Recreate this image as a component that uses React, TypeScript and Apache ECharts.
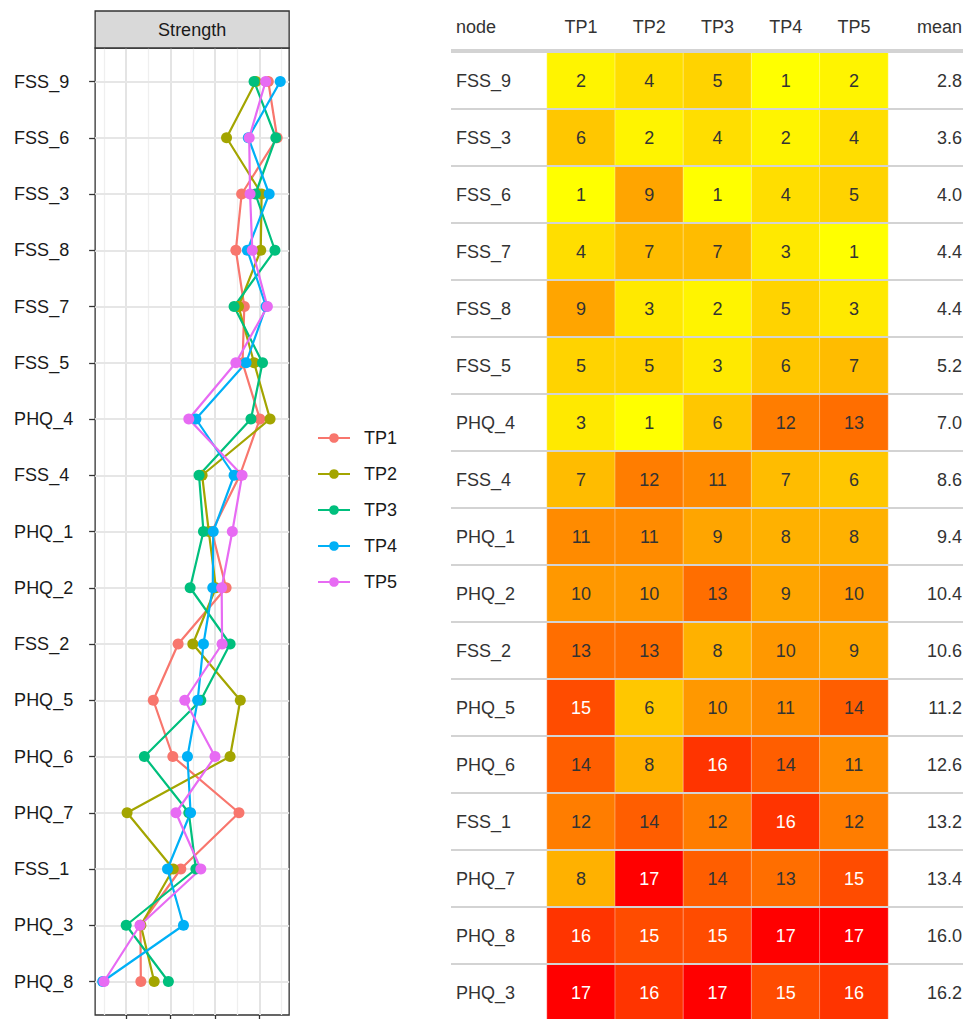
import React, { useEffect, useRef } from 'react';
import * as echarts from 'echarts';

// ---- Left panel: centrality (Strength) per time point ----
const plotNodes = ['FSS_9', 'FSS_6', 'FSS_3', 'FSS_8', 'FSS_7', 'FSS_5', 'PHQ_4', 'FSS_4', 'PHQ_1', 'PHQ_2', 'FSS_2', 'PHQ_5', 'PHQ_6', 'PHQ_7', 'FSS_1', 'PHQ_3', 'PHQ_8'];
const seriesNames = ['TP1', 'TP2', 'TP3', 'TP4', 'TP5'];
const strengthTP1 = [1.20, 1.40, 0.60, 0.47, 0.66, 0.62, 1.01, 0.56, -0.07, 0.25, -0.83, -1.39, -0.95, 0.54, -0.77, -1.68, -1.67];
const strengthTP2 = [0.92, 0.26, 1.05, 1.03, 0.53, 0.88, 1.24, -0.29, -0.14, 0.02, -0.50, 0.57, 0.34, -1.98, -0.94, -1.67, -1.37];
const strengthTP3 = [0.88, 1.37, 0.91, 1.35, 0.43, 1.07, 0.81, -0.36, -0.26, -0.56, 0.34, -0.32, -1.59, -0.59, -0.43, -2.00, -1.05];
const strengthTP4 = [1.47, 0.75, 1.22, 0.73, 1.15, 0.70, -0.43, 0.43, -0.04, -0.05, -0.26, -0.39, -0.62, -0.55, -1.07, -0.71, -2.53];
const strengthTP5 = [1.14, 0.77, 0.79, 0.84, 1.18, 0.47, -0.59, 0.61, 0.39, 0.15, 0.16, -0.68, 0.00, -0.88, -0.32, -1.69, -2.50];
const seriesColors = ['#F8766D', '#A3A500', '#00BF7D', '#00B0F6', '#E76BF3'];

// ---- Right panel: rank table ----
const tableNodes = ['FSS_9', 'FSS_3', 'FSS_6', 'FSS_7', 'FSS_8', 'FSS_5', 'PHQ_4', 'FSS_4', 'PHQ_1', 'PHQ_2', 'FSS_2', 'PHQ_5', 'PHQ_6', 'FSS_1', 'PHQ_7', 'PHQ_8', 'PHQ_3'];
const rankTP1 = [2, 6, 1, 4, 9, 5, 3, 7, 11, 10, 13, 15, 14, 12, 8, 16, 17];
const rankTP2 = [4, 2, 9, 7, 3, 5, 1, 12, 11, 10, 13, 6, 8, 14, 17, 15, 16];
const rankTP3 = [5, 4, 1, 7, 2, 3, 6, 11, 9, 13, 8, 10, 16, 12, 14, 15, 17];
const rankTP4 = [1, 2, 4, 3, 5, 6, 12, 7, 8, 9, 10, 11, 14, 16, 13, 17, 15];
const rankTP5 = [2, 4, 5, 1, 3, 7, 13, 6, 8, 10, 9, 14, 11, 12, 15, 17, 16];
const meanRank = [2.8, 3.6, 4.0, 4.4, 4.4, 5.2, 7.0, 8.6, 9.4, 10.4, 10.6, 11.2, 12.6, 13.2, 13.4, 16.0, 16.2];
const rampColors = ['#FFFF00', '#FFA500', '#FF0000'];

const FONT = '"Liberation Sans", Arial, Helvetica, sans-serif';

// Lab interpolation for the colour ramp
function hexToRgb(h: string) {
  return [parseInt(h.slice(1, 3), 16), parseInt(h.slice(3, 5), 16), parseInt(h.slice(5, 7), 16)];
}
function toLin(c: number) { c /= 255; return c <= 0.04045 ? c / 12.92 : Math.pow((c + 0.055) / 1.055, 2.4); }
function fromLin(c: number) { const v = c <= 0.0031308 ? 12.92 * c : 1.055 * Math.pow(c, 1 / 2.4) - 0.055; return Math.max(0, Math.min(255, Math.round(v * 255))); }
const WX = 0.95047, WY = 1.0, WZ = 1.08883;
function f(t: number) { return t > 216 / 24389 ? Math.cbrt(t) : (24389 / 27 * t + 16) / 116; }
function finv(t: number) { return t * t * t > 216 / 24389 ? t * t * t : (116 * t - 16) / (24389 / 27); }
function rgbToLab(rgb: number[]) {
  const [r, g, b] = rgb.map(toLin);
  const X = 0.4124 * r + 0.3576 * g + 0.1805 * b;
  const Y = 0.2126 * r + 0.7152 * g + 0.0722 * b;
  const Z = 0.0193 * r + 0.1192 * g + 0.9505 * b;
  const fx = f(X / WX), fy = f(Y / WY), fz = f(Z / WZ);
  return [116 * fy - 16, 500 * (fx - fy), 200 * (fy - fz)];
}
function labToHex(lab: number[]) {
  const fy = (lab[0] + 16) / 116, fx = fy + lab[1] / 500, fz = fy - lab[2] / 200;
  const X = WX * finv(fx), Y = WY * finv(fy), Z = WZ * finv(fz);
  const r = 3.2406 * X - 1.5372 * Y - 0.4986 * Z;
  const g = -0.9689 * X + 1.8758 * Y + 0.0415 * Z;
  const b = 0.0557 * X - 0.2040 * Y + 1.0570 * Z;
  return '#' + [r, g, b].map((c) => fromLin(c).toString(16).padStart(2, '0')).join('');
}
function buildPalette(stops: string[], n: number) {
  const labs = stops.map((s) => rgbToLab(hexToRgb(s)));
  const out: string[] = [];
  for (let i = 0; i < n; i++) {
    const t = (i / (n - 1)) * (labs.length - 1);
    const k = Math.min(Math.floor(t), labs.length - 2);
    const u = t - k;
    out.push(labToHex([0, 1, 2].map((d) => labs[k][d] + (labs[k + 1][d] - labs[k][d]) * u)));
  }
  return out;
}

// pixel layout of the left panel: x value 0 at 215px, 44.4 px per unit
const PX0 = 215, PXU = 44.4;
const PANEL_MIN = -2.7, PANEL_MAX = 1.67;

export default function App() {
  const ref = useRef<HTMLDivElement>(null);
  useEffect(() => {
    if (!ref.current) return;
    const chart = echarts.init(ref.current, undefined, { renderer: 'svg' });
    const strengths = [strengthTP1, strengthTP2, strengthTP3, strengthTP4, strengthTP5];
    const ranks = [rankTP1, rankTP2, rankTP3, rankTP4, rankTP5];
    const heatData: any[] = [];
    ranks.forEach((col, c) => {
      col.forEach((v, r) => {
        heatData.push({ value: [c, r, v], label: { color: v >= 15 ? '#ffffff' : '#333333' } });
      });
    });
    const palette = buildPalette(rampColors, 17);

    const lineSeries = strengths.map((vals, i) => ({
      type: 'line',
      name: seriesNames[i],
      xAxisIndex: 1,
      yAxisIndex: 1,
      data: vals.map((v, j) => [v, plotNodes[j]]),
      symbol: 'circle',
      symbolSize: 11,
      showSymbol: true,
      lineStyle: { width: 2.2, color: seriesColors[i] },
      itemStyle: { color: seriesColors[i] },
      emphasis: { disabled: true },
      z: 3,
    }));

    const noLine = { onZero: false, show: false };
    const hidden = { show: false };
    const panelLeft = PX0 + PANEL_MIN * PXU;
    const panelW = (PANEL_MAX - PANEL_MIN) * PXU;
    const gLeft = PX0 - 2.5 * PXU;
    const gW = 4 * PXU;

    const option: any = {
      animation: false,
      textStyle: { fontFamily: FONT },
      grid: [
        // 0: panel frame
        { left: panelLeft, top: 48, width: panelW, height: 967, show: true, borderColor: '#333333', borderWidth: 1.3, backgroundColor: '#ffffff', outerBoundsMode: 'none' },
        // 1: data area
        { left: panelLeft, top: 81.5, width: panelW, height: 900, outerBoundsMode: 'none' },
        // 2: heatmap cells
        { left: 547, top: 52, width: 341, height: 969, outerBoundsMode: 'none' },
        // 3: table rows
        { left: 451, top: 52, width: 512, height: 969, outerBoundsMode: 'none' },
        // 4: vertical grid lines of the panel (-2.5 .. 1.5)
        { left: gLeft, top: 48, width: gW, height: 967, outerBoundsMode: 'none' },
      ],
      xAxis: [
        { gridIndex: 0, type: 'value', min: PANEL_MIN, max: PANEL_MAX, show: false, axisLine: noLine, axisTick: hidden, axisLabel: hidden, splitLine: hidden },
        { gridIndex: 1, type: 'value', min: PANEL_MIN, max: PANEL_MAX, show: false, axisLine: noLine, axisTick: hidden, axisLabel: hidden, splitLine: hidden },
        {
          gridIndex: 2, type: 'category', data: seriesNames, position: 'top',
          axisLine: noLine, axisTick: hidden, splitLine: hidden,
          axisLabel: { margin: 16, fontSize: 18, color: '#333333', fontFamily: FONT },
        },
        { gridIndex: 3, type: 'value', min: 0, max: 1, show: false, axisLine: noLine, axisTick: hidden, axisLabel: hidden, splitLine: hidden },
        {
          gridIndex: 4, type: 'value', min: -2.5, max: 1.5, interval: 1, position: 'bottom',
          axisLine: noLine, axisLabel: hidden, axisTick: hidden,
          splitLine: { show: true, lineStyle: { color: '#efefef', width: 1.3 } },
          minorTick: { show: true, splitNumber: 2, length: 6, lineStyle: { color: '#333333', width: 1.3 } },
          minorSplitLine: { show: true, lineStyle: { color: '#e4e4e4', width: 2 } },
        },
      ],
      yAxis: [
        { gridIndex: 0, type: 'value', min: 0, max: 1, show: false, axisLine: noLine, axisTick: hidden, axisLabel: hidden, splitLine: hidden },
        {
          gridIndex: 1, type: 'category', data: plotNodes, inverse: true, boundaryGap: false, z: 2,
          axisLine: noLine,
          axisTick: { show: true, length: 6, lineStyle: { color: '#333333', width: 1.3 } },
          axisLabel: { align: 'left', margin: 81, fontSize: 18, color: '#1a1a1a', fontFamily: FONT },
          splitLine: { show: true, lineStyle: { color: '#e6e6e6', width: 2 } },
        },
        { gridIndex: 2, type: 'category', data: tableNodes, inverse: true, show: false, axisLine: noLine, axisTick: hidden, axisLabel: hidden, splitLine: hidden },
        {
          gridIndex: 3, type: 'category', data: tableNodes, inverse: true, z: 5,
          axisLine: noLine, axisTick: hidden,
          axisLabel: { align: 'left', margin: -5, fontSize: 18, color: '#333333', fontFamily: FONT },
          splitLine: { show: true, lineStyle: { color: '#d3d3d3', width: 2 } },
        },
        {
          gridIndex: 3, type: 'category', data: meanRank.map((m) => m.toFixed(1)), inverse: true, position: 'right',
          axisLine: noLine, axisTick: hidden, splitLine: hidden,
          axisLabel: { align: 'right', margin: -1, fontSize: 18, color: '#333333', fontFamily: FONT },
        },
        { gridIndex: 4, type: 'value', min: 0, max: 1, show: false, axisLine: noLine, axisTick: hidden, axisLabel: hidden, splitLine: hidden },
      ],
      legend: {
        data: seriesNames,
        orient: 'vertical',
        left: 312,
        top: 424,
        itemWidth: 32,
        itemHeight: 12,
        itemGap: 18,
        textStyle: { fontSize: 18, color: '#1a1a1a', fontFamily: FONT, padding: [0, 0, 0, 9] },
      },
      visualMap: {
        type: 'continuous', min: 1, max: 17, show: false, dimension: 2,
        seriesIndex: 5,
        inRange: { color: palette },
      },
      graphic: [
        { type: 'rect', shape: { x: panelLeft, y: 11, width: panelW, height: 37 }, style: { fill: '#d9d9d9', stroke: '#333333', lineWidth: 1.3 }, z: 10 },
        { type: 'text', x: panelLeft + panelW / 2, y: 29.5, style: { text: 'Strength', fontSize: 18, fill: '#1a1a1a', align: 'center', verticalAlign: 'middle', fontFamily: FONT }, z: 11 },
        { type: 'text', x: 456, y: 27, style: { text: 'node', fontSize: 18, fill: '#333333', align: 'left', verticalAlign: 'middle', fontFamily: FONT }, z: 11 },
        { type: 'text', x: 917, y: 27, style: { text: 'mean', fontSize: 18, fill: '#333333', align: 'left', verticalAlign: 'middle', fontFamily: FONT }, z: 11 },
        { type: 'line', shape: { x1: 451, y1: 50.5, x2: 963, y2: 50.5 }, style: { stroke: '#d3d3d3', lineWidth: 3 }, z: 11 },
      ],
      series: [
        ...lineSeries,
        {
          type: 'heatmap', xAxisIndex: 2, yAxisIndex: 2, data: heatData,
          label: { show: true, fontSize: 18, fontFamily: FONT },
          itemStyle: { borderColor: 'rgba(255,255,255,0.35)', borderWidth: 1 },
          emphasis: { disabled: true },
          z: 2,
        },
      ],
    };
    chart.setOption(option);
    return () => chart.dispose();
  }, []);
  return <div ref={ref} style={{ position: 'fixed', left: 0, top: 0, width: 963, height: 1019, background: '#ffffff' }} />;
}
